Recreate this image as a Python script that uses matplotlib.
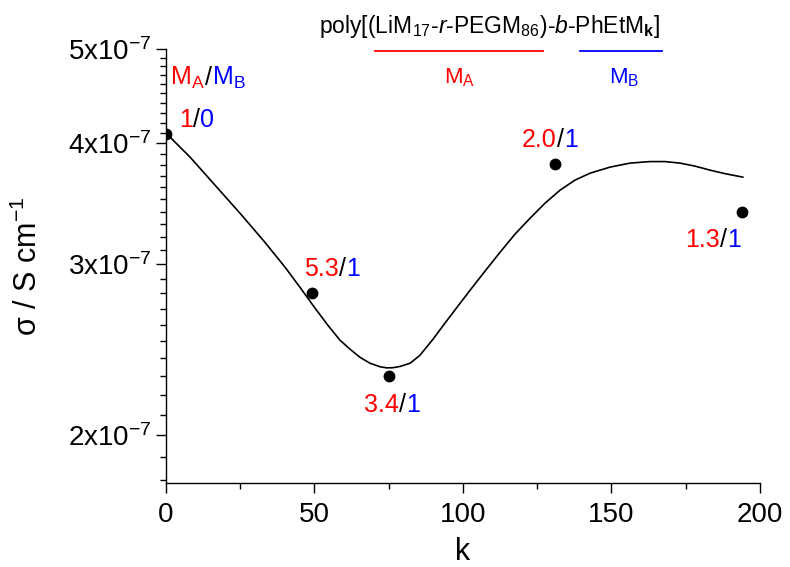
import matplotlib
matplotlib.use('Agg')
import matplotlib.pyplot as plt
import numpy as np
from matplotlib.ticker import FixedLocator, FixedFormatter, MultipleLocator, NullFormatter
from matplotlib.offsetbox import TextArea, HPacker, AnnotationBbox
from matplotlib.lines import Line2D

plt.rcParams['font.family'] = ['Liberation Sans', 'DejaVu Sans']
plt.rcParams['mathtext.fontset'] = 'custom'
plt.rcParams['mathtext.rm'] = 'Liberation Sans'
plt.rcParams['mathtext.it'] = 'Liberation Sans:italic'
plt.rcParams['mathtext.bf'] = 'Liberation Sans:bold'

# measured points
k_points = [0, 49, 75, 131, 194]
sigma_points = [4.09e-7, 2.80e-7, 2.30e-7, 3.81e-7, 3.40e-7]

# fitted curve
k_fit = [0, 8.1, 16.5, 24.9, 33.3, 40.1, 45.1, 50.2, 54.5, 58.6, 62.0, 65.3, 68.7, 72.1,
         74.4, 76.4, 78.8, 82.2, 85.5, 89.9, 93.9, 98.0, 102.4, 107.4, 112.5, 117.5,
         122.6, 127.6, 132.7, 137.7, 142.8, 149.5, 156.2, 162.9, 168.0, 173.1, 178.1,
         183.2, 188.2, 194.3]
sigma_fit = np.array([4.096, 3.869, 3.620, 3.387, 3.161, 2.979, 2.841, 2.703, 2.596, 2.505,
                      2.452, 2.406, 2.372, 2.352, 2.346, 2.347, 2.354, 2.372, 2.417, 2.511,
                      2.608, 2.709, 2.821, 2.951, 3.087, 3.222, 3.347, 3.468, 3.577, 3.663,
                      3.724, 3.778, 3.814, 3.828, 3.828, 3.814, 3.787, 3.751, 3.720, 3.689]) * 1e-7

# M_A / M_B ratio labels
ratio_a = ['1', '5.3', '3.4', '2.0', '1.3']
ratio_b = ['0', '1', '1', '1', '1']
label_k = [10.4, 55.9, 76.1, 129.3, 184.2]
label_sigma = [4.23e-7, 2.97e-7, 2.15e-7, 4.03e-7, 3.18e-7]

y_major = [2e-7, 3e-7, 4e-7, 5e-7]
y_major_labels = ['2x10$^{-7}$', '3x10$^{-7}$', '4x10$^{-7}$', '5x10$^{-7}$']

RED = '#ff0000'
BLUE = '#0000ff'


def colored_label(ax, x, y, parts, size):
    boxes = [TextArea(s, textprops=dict(color=c, fontsize=size)) for s, c in parts]
    pack = HPacker(children=boxes, align='baseline', pad=0, sep=0)
    ab = AnnotationBbox(pack, (x, y), xycoords='data', frameon=False,
                        box_alignment=(0.5, 0.5), pad=0)
    ax.add_artist(ab)


fig = plt.figure(figsize=(7.9, 5.67), dpi=100)
ax = fig.add_axes([0.2101, 0.1481, 0.7519, 0.7654])

ax.plot(k_fit, sigma_fit, color='black', lw=1.2, zorder=2,
        solid_joinstyle='round', solid_capstyle='round')
ax.plot(k_points, sigma_points, 'o', color='black', ms=7.5, zorder=3)

ax.set_yscale('log')
ax.set_xlim(0, 200)
ax.set_ylim(1.785e-7, 5e-7)

ax.yaxis.set_major_locator(FixedLocator(y_major))
ax.yaxis.set_major_formatter(FixedFormatter(y_major_labels))
ax.yaxis.set_minor_locator(FixedLocator(np.arange(18, 50) * 1e-8))
ax.yaxis.set_minor_formatter(NullFormatter())
ax.xaxis.set_major_locator(MultipleLocator(50))
ax.xaxis.set_minor_locator(MultipleLocator(25))

for side in ['top', 'right']:
    ax.spines[side].set_visible(False)
for side in ['left', 'bottom']:
    ax.spines[side].set_linewidth(1.0)

ax.tick_params(which='major', direction='out', length=7, width=1, labelsize=20)
ax.tick_params(which='minor', direction='out', length=4.5, width=1)
ax.tick_params(axis='y', which='major', pad=3)
ax.tick_params(axis='x', which='major', pad=7)

ax.set_xlabel('k', fontsize=22)
ax.set_ylabel('σ / S cm$^{-1}$', fontsize=22)
ax.xaxis.set_label_coords(0.5, -0.125)
ax.yaxis.set_label_coords(-0.205, 0.5)

# header labels M_A / M_B
colored_label(ax, 14.1, 4.67e-7,
              [('M$_\\mathrm{A}$', RED), ('/', 'black'), ('M$_\\mathrm{B}$', BLUE)], 18)

for a, b, x, y in zip(ratio_a, ratio_b, label_k, label_sigma):
    colored_label(ax, x, y, [(a, RED), ('/', 'black'), (b, BLUE)], 18)

# polymer formula with block underlines
fig.text(490 / 790, 1 - 33 / 567,
         'poly[(LiM$_{17}$-$\\mathit{r}$-PEGM$_{86}$)-$\\mathit{b}$-PhEtM$_{\\mathbf{k}}$]',
         ha='center', va='baseline', fontsize=16.5)
fig.add_artist(Line2D([375 / 790, 543 / 790], [1 - 51 / 567] * 2, color=RED, lw=1.3,
                      transform=fig.transFigure))
fig.add_artist(Line2D([580 / 790, 662 / 790], [1 - 51 / 567] * 2, color=BLUE, lw=1.3,
                      transform=fig.transFigure))
fig.text(460 / 790, 1 - 83 / 567, 'M$_\\mathrm{A}$', color=RED, ha='center',
         va='baseline', fontsize=16)
fig.text(624 / 790, 1 - 83 / 567, 'M$_\\mathrm{B}$', color=BLUE, ha='center',
         va='baseline', fontsize=16)

fig.savefig('out.png', dpi=100, facecolor='white')
